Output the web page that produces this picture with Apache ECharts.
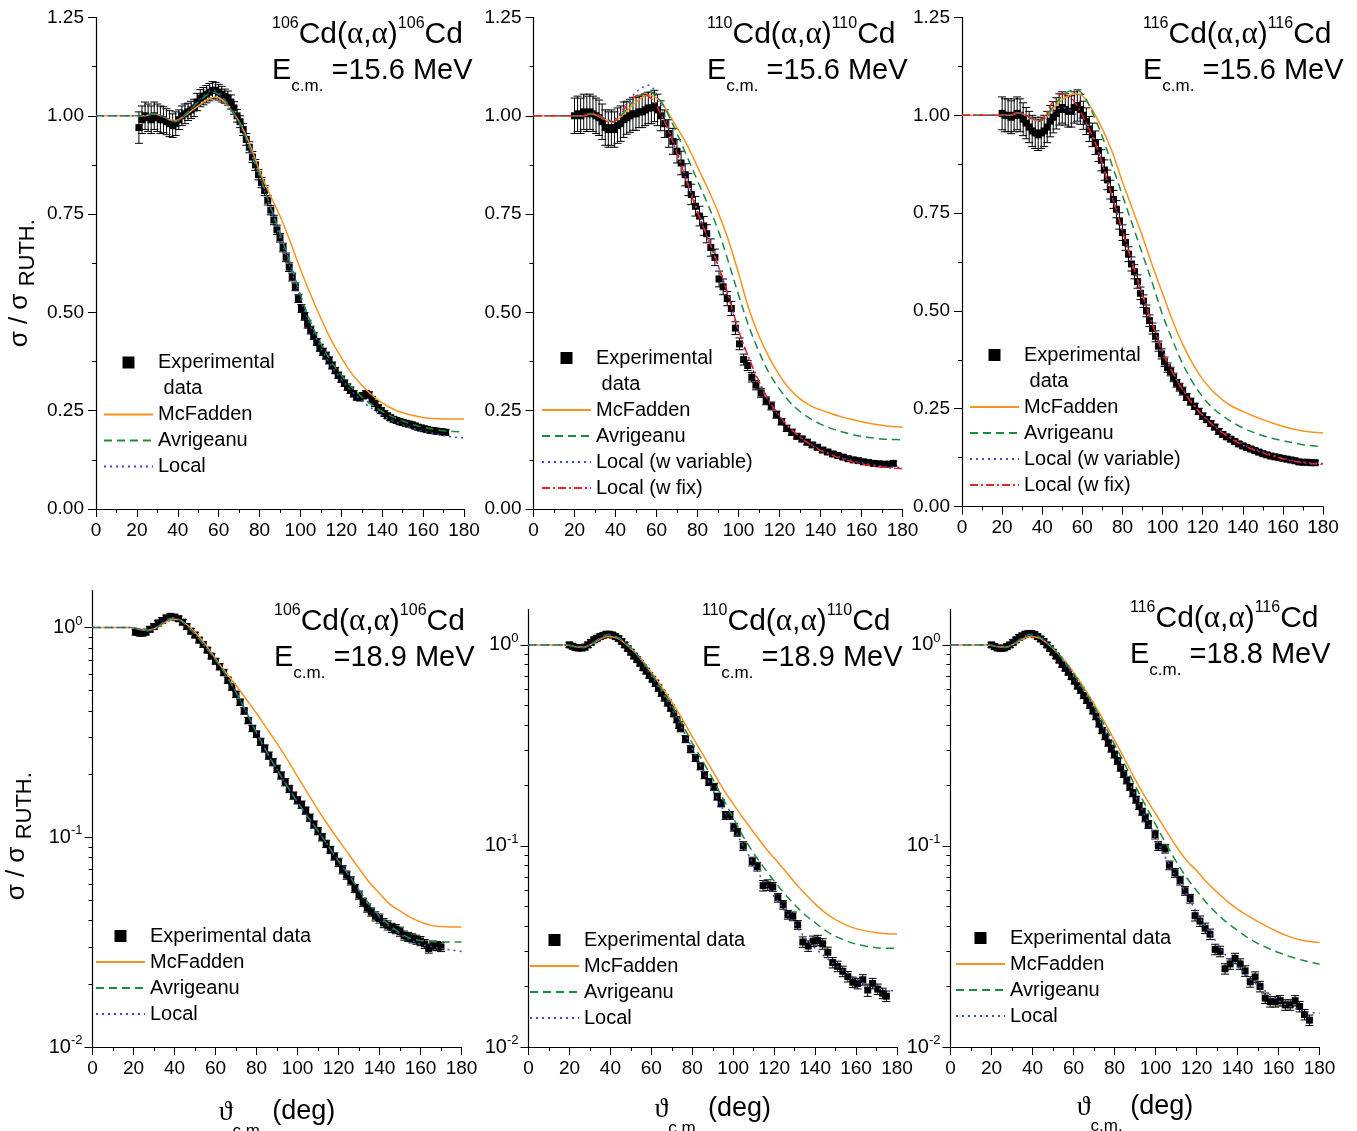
<!DOCTYPE html>
<html>
<head>
<meta charset="utf-8">
<title>Cd(α,α) elastic scattering</title>
<script src="https://cdn.jsdelivr.net/npm/echarts@6/dist/echarts.min.js"></script>
<style>
  html, body { margin: 0; padding: 0; background: #fff; }
  #main { width: 1357px; height: 1131px; }
</style>
</head>
<body>
<div id="main"></div>
<script type="text/javascript">
// ---- data: [angle (deg), sigma/sigma_Ruth, error] ----
// top row: error is absolute, bottom row (log) error is in percent
var p1Exp = [[21,0.97,0.04],[22.5,0.99,0.035],[24,1.0,0.035],[25.5,0.995,0.035],[27,0.99,0.035],[28.5,1.0,0.035],[30,0.995,0.035],[31.5,0.99,0.035],[33,0.99,0.033],[34.5,0.985,0.033],[36,0.98,0.033],[37.5,0.975,0.03],[39,0.98,0.03],[40.5,0.99,0.025],[42,1.0,0.025],[43.5,1.005,0.025],[45,1.01,0.022],[46.5,1.015,0.022],[48,1.02,0.022],[49.5,1.035,0.022],[51,1.045,0.022],[52.5,1.05,0.022],[54,1.055,0.022],[55.5,1.06,0.022],[57,1.065,0.022],[58.5,1.065,0.02],[60,1.06,0.02],[61.5,1.055,0.02],[63,1.05,0.018],[64.5,1.045,0.018],[66,1.035,0.018],[67.5,1.02,0.016],[69,1.0,0.016],[70.5,0.985,0.015],[72,0.965,0.015],[73.5,0.94,0.015],[75,0.92,0.014],[76.5,0.895,0.014],[78,0.875,0.014],[79.5,0.85,0.013],[81,0.83,0.013],[82.5,0.81,0.013],[84,0.785,0.012],[85.5,0.76,0.012],[87,0.735,0.012],[88.5,0.71,0.012],[90,0.69,0.011],[91.5,0.665,0.011],[93,0.64,0.011],[94.5,0.615,0.011],[96,0.59,0.01],[97.5,0.565,0.01],[99,0.535,0.01],[100.5,0.51,0.01],[102,0.49,0.01],[103.5,0.47,0.01],[105,0.455,0.01],[106.5,0.44,0.009],[108,0.425,0.009],[109.5,0.41,0.009],[111,0.4,0.009],[112.5,0.39,0.009],[114,0.378,0.009],[115.5,0.365,0.009],[117,0.352,0.008],[118.5,0.34,0.008],[120,0.33,0.008],[121.5,0.32,0.008],[123,0.31,0.008],[124.5,0.302,0.008],[126,0.293,0.008],[127.5,0.285,0.008],[129,0.283,0.008],[130.5,0.288,0.008],[132,0.293,0.008],[133.5,0.29,0.008],[135,0.278,0.008],[136.5,0.268,0.007],[138,0.258,0.007],[139.5,0.25,0.007],[141,0.243,0.007],[142.5,0.237,0.007],[144,0.232,0.007],[145.5,0.228,0.007],[147,0.225,0.007],[148.5,0.222,0.007],[150,0.22,0.007],[151.5,0.218,0.007],[153,0.216,0.007],[154.5,0.214,0.007],[156,0.211,0.007],[157.5,0.208,0.007],[159,0.206,0.007],[160.5,0.204,0.007],[162,0.202,0.007],[163.5,0.2,0.007],[165,0.199,0.007],[166.5,0.198,0.007],[168,0.197,0.007],[169.5,0.196,0.007],[171,0.195,0.007]];
var p2Exp = [[20,1.0,0.045],[21.5,1.005,0.045],[23,1.0,0.045],[24.5,1.01,0.045],[26,1.005,0.045],[27.5,1.01,0.045],[29,1.005,0.045],[30.5,1.0,0.045],[32,0.995,0.045],[33.5,0.985,0.045],[35,0.97,0.045],[36.5,0.965,0.045],[38,0.97,0.045],[39.5,0.965,0.045],[41,0.975,0.045],[42.5,0.98,0.045],[44,0.99,0.045],[45.5,0.995,0.042],[47,1.0,0.042],[48.5,1.005,0.042],[50,1.005,0.042],[51.5,1.01,0.04],[53,1.01,0.04],[54.5,1.015,0.04],[56,1.02,0.04],[57.5,1.02,0.04],[59,1.025,0.04],[60.5,1.015,0.04],[62,1.0,0.038],[64,0.98,0.035],[66,0.955,0.035],[68,0.935,0.033],[70,0.91,0.03],[72,0.88,0.03],[74,0.85,0.028],[75.5,0.825,0.028],[77,0.8,0.026],[79,0.77,0.025],[81,0.745,0.025],[83,0.72,0.024],[84.5,0.7,0.023],[86.5,0.665,0.022],[88.5,0.64,0.021],[90.5,0.585,0.02],[92.5,0.565,0.02],[94.5,0.535,0.018],[96.5,0.51,0.018],[98.5,0.46,0.016],[100.5,0.42,0.015],[102.5,0.38,0.014],[104.5,0.365,0.013],[106.5,0.335,0.012],[108.5,0.315,0.012],[111,0.295,0.011],[113.5,0.275,0.01],[116,0.262,0.01],[118.5,0.24,0.009],[121,0.222,0.008],[123.5,0.205,0.008],[126,0.195,0.008],[128.5,0.185,0.007],[131,0.178,0.007],[133.5,0.17,0.007],[136,0.163,0.006],[138.5,0.157,0.006],[141,0.15,0.006],[143.5,0.145,0.006],[146,0.14,0.006],[148.5,0.136,0.005],[151,0.132,0.005],[153.5,0.128,0.005],[156,0.125,0.005],[158.5,0.123,0.005],[161,0.12,0.005],[163.5,0.118,0.005],[166,0.116,0.005],[168.5,0.115,0.005],[171,0.114,0.005],[173.5,0.114,0.005],[175.5,0.116,0.005]];
var p3Exp = [[20,1.005,0.042],[21.5,1.0,0.042],[23,1.0,0.042],[24.5,0.995,0.042],[26,1.0,0.042],[27.5,1.005,0.042],[29,1.0,0.042],[30.5,0.99,0.042],[32,0.98,0.04],[33.5,0.97,0.04],[35,0.96,0.04],[36.5,0.955,0.04],[38,0.95,0.04],[39.5,0.955,0.04],[41,0.96,0.04],[42.5,0.97,0.04],[44,0.985,0.04],[45.5,0.995,0.04],[47,1.005,0.04],[48.5,1.015,0.04],[50,1.02,0.04],[51.5,1.015,0.04],[53,1.01,0.04],[54.5,1.01,0.04],[56,1.02,0.04],[57.5,1.025,0.04],[59,1.015,0.038],[60.5,1.0,0.036],[62,0.985,0.034],[63.5,0.965,0.032],[65,0.95,0.03],[66.5,0.93,0.03],[68,0.91,0.028],[69.5,0.885,0.027],[71,0.86,0.026],[72.5,0.835,0.025],[74,0.81,0.024],[75.5,0.785,0.023],[77,0.76,0.022],[78.5,0.73,0.021],[80,0.7,0.02],[81.5,0.675,0.02],[83,0.645,0.019],[84.5,0.62,0.018],[86,0.6,0.018],[87.5,0.575,0.017],[89,0.545,0.016],[90.5,0.525,0.016],[92,0.5,0.015],[93.5,0.475,0.015],[95,0.455,0.014],[96.5,0.435,0.014],[98,0.41,0.013],[99.5,0.39,0.013],[101,0.37,0.012],[102.5,0.355,0.012],[104,0.345,0.011],[105.5,0.33,0.011],[107,0.315,0.01],[108.5,0.305,0.01],[110,0.295,0.01],[112,0.28,0.009],[114,0.268,0.009],[116,0.256,0.008],[118,0.243,0.008],[120,0.231,0.008],[122,0.222,0.007],[124,0.212,0.007],[126,0.203,0.007],[128,0.192,0.007],[130,0.184,0.006],[132,0.178,0.006],[134,0.172,0.006],[136,0.166,0.006],[138,0.16,0.006],[140,0.155,0.006],[142,0.151,0.005],[144,0.147,0.005],[146,0.143,0.005],[148,0.139,0.005],[150,0.135,0.005],[152,0.132,0.005],[154,0.129,0.005],[156,0.127,0.005],[158,0.125,0.005],[160,0.123,0.005],[162,0.121,0.005],[164,0.119,0.005],[166,0.117,0.005],[168,0.114,0.005],[170,0.113,0.005],[172,0.113,0.005],[174,0.112,0.005],[176,0.112,0.005]];
var p4Exp = [[21,0.95,3],[22,0.95,3],[23,0.94,3],[24.5,0.94,3],[26,0.95,3],[28,0.98,3],[30,1.01,3],[32,1.05,3],[34,1.08,3],[36,1.11,3],[38,1.13,3],[40,1.12,3],[42,1.1,3],[44,1.06,3],[46,1.01,3],[48,0.96,3],[50,0.92,3],[52,0.87,3],[54,0.83,3],[56,0.78,3],[58,0.73,3],[60,0.69,3],[62,0.65,3.5],[64,0.61,3.5],[66,0.56,3.5],[68,0.52,3.5],[70,0.48,3.5],[72,0.44,3.5],[74,0.4,3.5],[76,0.36,3.5],[78,0.33,3.5],[80,0.31,3.5],[82,0.285,4],[84,0.265,4],[86,0.245,4],[88,0.228,4],[90,0.212,4],[92,0.197,4],[94,0.183,4],[96,0.17,4],[98,0.158,4],[100,0.15,4],[102,0.143,4],[104,0.134,4],[106,0.124,4],[108,0.115,4],[110,0.107,4],[112,0.1,4],[114,0.093,4],[116,0.087,4],[118,0.081,4],[120,0.076,4.5],[122,0.07,4.5],[124,0.066,4.5],[126,0.062,4.5],[128,0.057,4.5],[130,0.053,4.5],[132,0.049,4.5],[134,0.046,4.5],[136,0.044,4.5],[138,0.042,5],[140,0.041,5],[142,0.039,5],[144,0.038,5],[146,0.037,5],[148,0.0365,5],[150,0.0355,5],[152,0.034,5],[154,0.0335,5],[156,0.033,5],[158,0.0325,5],[160,0.032,5],[162,0.031,5],[164,0.0295,5],[166,0.0305,5],[168,0.0303,5],[170,0.03,5]];
var p5Exp = [[20,1.0,3],[21.5,0.985,3],[23,0.97,3],[24.5,0.965,3],[26,0.965,3],[27.5,0.975,3],[29,1.0,3],[30.5,1.03,3],[32,1.06,3],[33.5,1.08,3],[35,1.1,3],[36.5,1.115,3],[38,1.13,3],[39.5,1.13,3],[41,1.12,3],[42.5,1.1,3],[44,1.075,3],[45.5,1.04,3],[47,1.0,3],[48.5,0.96,3],[50,0.92,3],[51.5,0.88,3],[53,0.845,3],[54.5,0.81,3],[56,0.77,3],[57.5,0.74,3],[59,0.705,3],[60.5,0.675,3],[62,0.645,3.5],[63.5,0.61,3.5],[65,0.575,3.5],[66.5,0.545,3.5],[68,0.515,3.5],[69.5,0.485,3.5],[71,0.455,3.5],[72.5,0.425,3.5],[73.5,0.4,4],[74.3,0.385,4],[76.7,0.34,4],[79.2,0.303,4],[81.6,0.274,4],[84,0.249,4],[86,0.225,4],[88.1,0.208,4],[90.6,0.197,4],[92.2,0.176,4],[94.1,0.163,4],[96.3,0.142,4.5],[98.4,0.142,4.5],[100.3,0.124,4.5],[102,0.117,4.5],[104.9,0.1,5],[109.3,0.0837,5],[111.7,0.079,5],[114.6,0.0635,6],[116.9,0.064,6],[119.3,0.0626,5],[121.8,0.0553,5],[124.4,0.051,5],[126.7,0.0455,5],[129.1,0.0447,5],[131.5,0.0405,5],[134,0.0333,6],[136.6,0.0318,6],[139,0.0336,6],[141.3,0.0339,6],[143.7,0.0326,6],[146.2,0.0296,6],[148.6,0.0263,6],[151,0.0252,6],[153.5,0.0238,6],[156,0.0224,6],[158.4,0.021,6],[160.8,0.0207,6],[163.3,0.0216,6],[165.7,0.0192,7],[168.1,0.0207,6],[170.6,0.0194,6],[173,0.0185,6],[174.8,0.0179,6]];
var p6Exp = [[20,1.0,3],[21.5,0.98,3],[23,0.965,3],[24.5,0.96,3],[26,0.965,3],[27.5,0.98,3],[29,1.0,3],[30.5,1.03,3],[32,1.06,3],[33.5,1.09,3],[35,1.11,3],[36.5,1.13,3],[38,1.14,3],[39.5,1.14,3],[41,1.125,3],[42.5,1.1,3],[44,1.07,3],[45.5,1.04,3],[47,1.0,3],[48.5,0.96,3],[50,0.92,3],[51.5,0.88,3],[53,0.84,3],[54.5,0.8,3],[56,0.765,3],[57.5,0.73,3],[59,0.695,3],[60.5,0.66,3],[62,0.625,3.5],[63.5,0.595,3.5],[65,0.56,3.5],[66.5,0.53,3.5],[68,0.5,3.5],[69.5,0.47,3.5],[71,0.44,3.5],[72.5,0.405,3.5],[74,0.375,3.5],[75.5,0.35,3.5],[77,0.325,3.5],[78.5,0.305,4],[80,0.285,4],[81.5,0.265,4],[83,0.245,4],[84.5,0.228,4],[86,0.212,4],[87.5,0.197,4],[89,0.183,4],[90.5,0.17,4],[92,0.158,4],[93.5,0.148,4],[95,0.138,4.5],[96.5,0.128,4.5],[99.8,0.114,5],[101.4,0.1,5],[104.7,0.097,5],[106.8,0.0801,5],[109.5,0.0735,5],[112,0.0673,5],[114.4,0.0598,5],[116.9,0.0547,5],[119.3,0.045,6],[121.7,0.0423,6],[124.2,0.039,6],[126.6,0.0364,6],[129.1,0.0306,6],[131.5,0.0299,6],[133.9,0.0245,6],[136.4,0.0259,6],[138.8,0.0276,6],[141.3,0.0259,6],[143.7,0.0239,6],[146.2,0.0211,6],[148.6,0.0223,6],[151,0.02,6],[153.5,0.0175,6],[155.9,0.0168,6],[158.4,0.0168,6],[160.8,0.017,6],[163.3,0.0162,6],[165.7,0.0162,6],[168.1,0.017,6],[170.3,0.0159,6],[172.7,0.0145,6],[175.1,0.0136,6]];

// ---- optical model curves: [angle, sigma/sigma_Ruth] ----
var p1McFadden = [[0,1],[10,1],[20,1.0],[24,1.0],[28,1.005],[32,1.0],[36,0.99],[39,0.988],[42,0.995],[46,1.01],[50,1.025],[54,1.04],[58,1.048],[62,1.04],[66,1.015],[70,0.985],[75,0.93],[80,0.86],[85,0.8],[90,0.745],[95,0.68],[100,0.61],[105,0.545],[110,0.485],[115,0.43],[120,0.385],[125,0.345],[130,0.315],[135,0.29],[140,0.27],[145,0.255],[150,0.245],[155,0.238],[160,0.233],[165,0.23],[170,0.229],[175,0.229],[180,0.229]];
var p1Avrigeanu = [[0,1],[10,1],[20,1.0],[24,1.0],[28,1.006],[32,1.0],[36,0.99],[39,0.985],[42,0.995],[46,1.015],[50,1.035],[54,1.052],[57,1.06],[60,1.055],[63,1.04],[66,1.015],[70,0.985],[75,0.92],[80,0.85],[85,0.775],[90,0.7],[95,0.625],[100,0.545],[105,0.475],[110,0.42],[115,0.375],[120,0.34],[125,0.31],[130,0.285],[135,0.265],[140,0.248],[145,0.235],[150,0.224],[155,0.215],[160,0.208],[165,0.203],[170,0.199],[175,0.197],[180,0.196]];
var p1Local = [[0,1],[10,1],[20,1.0],[24,1.0],[28,1.006],[32,1.0],[36,0.99],[39,0.985],[42,0.995],[46,1.015],[50,1.038],[54,1.056],[57,1.065],[60,1.058],[63,1.04],[66,1.013],[70,0.98],[75,0.915],[80,0.845],[85,0.77],[90,0.69],[95,0.615],[100,0.535],[105,0.465],[110,0.41],[115,0.365],[120,0.33],[125,0.3],[130,0.275],[135,0.255],[140,0.238],[145,0.225],[150,0.214],[155,0.205],[160,0.198],[165,0.192],[170,0.187],[175,0.183],[180,0.181]];

var p2McFadden = [[0,1],[10,1],[20,1.0],[24,1.0],[28,1.005],[32,0.998],[36,0.988],[39,0.985],[42,0.995],[46,1.015],[50,1.035],[54,1.05],[57,1.052],[60,1.045],[63,1.03],[66,1.005],[70,0.97],[75,0.925],[80,0.87],[85,0.815],[90,0.755],[95,0.685],[100,0.6],[105,0.51],[110,0.44],[115,0.385],[120,0.34],[125,0.305],[130,0.28],[135,0.263],[140,0.252],[145,0.243],[150,0.235],[155,0.228],[160,0.222],[165,0.217],[170,0.213],[175,0.21],[180,0.208]];
var p2Avrigeanu = [[0,1],[10,1],[20,1.0],[24,1.0],[28,1.006],[32,1.0],[36,0.99],[39,0.985],[42,0.998],[46,1.02],[50,1.045],[54,1.058],[57,1.06],[60,1.05],[63,1.03],[66,1.0],[70,0.955],[75,0.895],[80,0.835],[85,0.775],[90,0.71],[95,0.63],[100,0.545],[105,0.465],[110,0.4],[115,0.345],[120,0.305],[125,0.272],[130,0.248],[135,0.23],[140,0.216],[145,0.205],[150,0.197],[155,0.19],[160,0.185],[165,0.181],[170,0.178],[175,0.177],[180,0.176]];
var p2LocalVar = [[0,1],[10,1],[20,1.0],[24,1.0],[28,1.008],[32,1.0],[36,0.988],[39,0.99],[42,1.005],[46,1.035],[50,1.06],[53,1.072],[56,1.078],[59,1.065],[62,1.03],[66,0.965],[70,0.91],[75,0.835],[80,0.76],[85,0.69],[90,0.62],[95,0.54],[100,0.45],[105,0.38],[110,0.32],[115,0.27],[120,0.235],[125,0.205],[130,0.183],[135,0.165],[140,0.151],[145,0.14],[150,0.131],[155,0.124],[160,0.118],[165,0.113],[170,0.109],[175,0.107],[180,0.106]];
var p2LocalFix = [[0,1],[10,1],[20,1.0],[24,1.0],[28,1.006],[32,1.0],[36,0.985],[39,0.985],[42,1.0],[46,1.03],[50,1.05],[53,1.056],[56,1.05],[59,1.035],[62,1.005],[66,0.96],[70,0.905],[75,0.83],[80,0.755],[85,0.69],[90,0.62],[95,0.545],[100,0.455],[105,0.385],[110,0.325],[115,0.275],[120,0.237],[125,0.207],[130,0.183],[135,0.164],[140,0.149],[145,0.138],[150,0.129],[155,0.121],[160,0.115],[165,0.11],[170,0.107],[175,0.104],[180,0.103]];

var p3McFadden = [[0,1],[10,1],[20,1.0],[24,1.0],[28,1.006],[32,1.0],[36,0.988],[39,0.985],[42,0.995],[46,1.02],[50,1.04],[54,1.052],[57,1.055],[60,1.05],[63,1.03],[66,1.005],[70,0.965],[75,0.905],[80,0.83],[85,0.76],[90,0.69],[95,0.615],[100,0.545],[105,0.475],[110,0.415],[115,0.365],[120,0.325],[125,0.295],[130,0.272],[135,0.255],[140,0.243],[145,0.232],[150,0.222],[155,0.213],[160,0.205],[165,0.198],[170,0.193],[175,0.19],[180,0.188]];
var p3Avrigeanu = [[0,1],[10,1],[20,1.0],[24,1.0],[28,1.006],[32,1.0],[36,0.99],[39,0.985],[42,1.0],[46,1.025],[50,1.05],[54,1.063],[57,1.065],[60,1.055],[63,1.03],[66,0.995],[70,0.945],[75,0.87],[80,0.795],[85,0.72],[90,0.645],[95,0.57],[100,0.49],[105,0.425],[110,0.365],[115,0.318],[120,0.28],[125,0.252],[130,0.232],[135,0.215],[140,0.201],[145,0.19],[150,0.181],[155,0.174],[160,0.168],[165,0.163],[170,0.158],[175,0.155],[180,0.153]];
var p3LocalVar = [[0,1],[10,1],[20,1.0],[24,1.0],[28,1.006],[32,1.0],[36,0.99],[39,0.985],[42,0.995],[46,1.01],[50,1.02],[53,1.015],[56,1.005],[59,0.99],[62,0.97],[66,0.935],[70,0.875],[75,0.79],[80,0.705],[85,0.625],[90,0.545],[95,0.47],[100,0.4],[105,0.345],[110,0.3],[115,0.264],[120,0.234],[125,0.21],[130,0.19],[135,0.173],[140,0.159],[145,0.148],[150,0.139],[155,0.131],[160,0.124],[165,0.118],[170,0.114],[175,0.111],[180,0.11]];
var p3LocalFix = [[0,1],[10,1],[20,1.0],[24,1.0],[28,1.008],[32,1.0],[36,0.988],[39,0.988],[42,1.005],[46,1.04],[50,1.055],[53,1.05],[56,1.035],[59,1.01],[62,0.98],[66,0.935],[70,0.875],[75,0.79],[80,0.705],[85,0.62],[90,0.54],[95,0.465],[100,0.395],[105,0.342],[110,0.298],[115,0.262],[120,0.232],[125,0.208],[130,0.188],[135,0.171],[140,0.157],[145,0.146],[150,0.137],[155,0.129],[160,0.122],[165,0.116],[170,0.112],[175,0.109],[180,0.108]];

var p4McFadden = [[0,1],[10,1],[18,1.0],[21,0.99],[24,0.975],[27,0.97],[30,0.985],[33,1.02],[36,1.065],[39,1.095],[42,1.09],[45,1.05],[50,0.95],[55,0.83],[60,0.71],[65,0.61],[70,0.53],[75,0.455],[80,0.39],[85,0.33],[90,0.28],[95,0.235],[100,0.195],[105,0.162],[110,0.135],[115,0.114],[120,0.097],[125,0.083],[130,0.071],[135,0.061],[140,0.054],[145,0.048],[150,0.0445],[155,0.0415],[160,0.0395],[165,0.038],[170,0.0375],[175,0.0373],[180,0.0373]];
var p4Avrigeanu = [[0,1],[10,1],[18,1.0],[21,0.99],[24,0.975],[27,0.965],[30,0.98],[33,1.03],[36,1.085],[39,1.11],[42,1.09],[45,1.04],[50,0.93],[55,0.81],[60,0.7],[65,0.595],[70,0.49],[75,0.395],[80,0.315],[85,0.255],[90,0.21],[95,0.175],[100,0.147],[105,0.125],[110,0.107],[115,0.091],[120,0.077],[125,0.066],[130,0.056],[135,0.048],[140,0.042],[145,0.038],[150,0.035],[155,0.033],[160,0.0322],[165,0.0318],[170,0.0317],[175,0.0317],[180,0.0317]];
var p4Local = [[0,1],[10,1],[18,1.0],[21,0.99],[24,0.975],[27,0.965],[30,0.98],[33,1.03],[36,1.085],[39,1.11],[42,1.09],[45,1.04],[50,0.93],[55,0.81],[60,0.7],[65,0.595],[70,0.49],[75,0.395],[80,0.315],[85,0.255],[90,0.21],[95,0.175],[100,0.147],[105,0.125],[110,0.107],[115,0.091],[120,0.077],[125,0.066],[130,0.056],[135,0.048],[140,0.0415],[145,0.0375],[150,0.0345],[155,0.0325],[160,0.031],[165,0.0302],[170,0.0295],[175,0.029],[180,0.0285]];

var p5McFadden = [[0,1],[10,1],[18,1.0],[21,0.99],[24,0.975],[27,0.975],[30,1.0],[33,1.04],[36,1.08],[39,1.1],[42,1.09],[45,1.06],[50,0.96],[55,0.85],[60,0.73],[65,0.62],[70,0.52],[75,0.43],[80,0.35],[85,0.287],[90,0.235],[95,0.193],[100,0.162],[105,0.137],[110,0.117],[115,0.1],[120,0.087],[125,0.076],[130,0.066],[135,0.058],[140,0.0515],[145,0.0465],[150,0.043],[155,0.0405],[160,0.0388],[165,0.0377],[170,0.037],[175,0.0366],[180,0.0365]];
var p5Avrigeanu = [[0,1],[10,1],[18,1.0],[21,0.99],[24,0.972],[27,0.97],[30,1.0],[33,1.05],[36,1.1],[39,1.125],[42,1.11],[45,1.07],[50,0.97],[55,0.845],[60,0.72],[65,0.6],[70,0.5],[75,0.405],[80,0.325],[85,0.265],[90,0.215],[95,0.172],[100,0.138],[105,0.111],[110,0.092],[115,0.078],[120,0.067],[125,0.058],[130,0.051],[135,0.0455],[140,0.0415],[145,0.038],[150,0.0355],[155,0.0338],[160,0.0325],[165,0.0317],[170,0.0312],[175,0.031],[180,0.031]];
var p5Local = [[0,1],[10,1],[18,1.0],[21,0.99],[24,0.972],[27,0.97],[30,1.0],[33,1.05],[36,1.1],[39,1.125],[42,1.11],[45,1.065],[50,0.96],[55,0.835],[60,0.7],[65,0.585],[70,0.48],[75,0.385],[80,0.305],[85,0.24],[90,0.19],[95,0.152],[100,0.123],[105,0.1],[110,0.081],[115,0.066],[120,0.056],[125,0.048],[130,0.041],[135,0.035],[140,0.031],[145,0.028],[150,0.0255],[155,0.0235],[160,0.0218],[165,0.0205],[170,0.0197],[175,0.0192],[180,0.019]];

var p6McFadden = [[0,1],[10,1],[18,1.0],[21,0.99],[24,0.975],[27,0.975],[30,1.0],[33,1.04],[36,1.08],[39,1.1],[42,1.09],[45,1.06],[50,0.96],[55,0.85],[60,0.73],[65,0.615],[70,0.51],[75,0.415],[80,0.335],[85,0.27],[90,0.215],[95,0.175],[100,0.145],[105,0.12],[110,0.1],[115,0.085],[120,0.0755],[125,0.066],[130,0.059],[135,0.053],[140,0.0485],[145,0.045],[150,0.042],[155,0.0395],[160,0.0372],[165,0.0355],[170,0.0342],[175,0.0335],[180,0.0331]];
var p6Avrigeanu = [[0,1],[10,1],[18,1.0],[21,0.99],[24,0.972],[27,0.97],[30,1.0],[33,1.05],[36,1.1],[39,1.125],[42,1.11],[45,1.07],[50,0.97],[55,0.845],[60,0.72],[65,0.6],[70,0.495],[75,0.4],[80,0.32],[85,0.255],[90,0.2],[95,0.16],[100,0.128],[105,0.103],[110,0.084],[115,0.07],[120,0.06],[125,0.052],[130,0.046],[135,0.0415],[140,0.038],[145,0.035],[150,0.0327],[155,0.031],[160,0.0295],[165,0.0283],[170,0.0273],[175,0.0265],[180,0.0258]];
var p6Local = [[0,1],[10,1],[18,1.0],[21,0.99],[24,0.972],[27,0.97],[30,1.0],[33,1.05],[36,1.1],[39,1.125],[42,1.11],[45,1.065],[50,0.96],[55,0.83],[60,0.7],[65,0.585],[70,0.48],[75,0.38],[80,0.3],[85,0.235],[90,0.18],[95,0.14],[100,0.11],[105,0.087],[110,0.07],[115,0.058],[120,0.047],[125,0.039],[130,0.033],[135,0.028],[140,0.025],[145,0.0225],[150,0.0202],[155,0.0185],[160,0.017],[165,0.016],[170,0.0153],[175,0.0149],[180,0.0147]];

// ---- labels and ticks ----
var nuclei = ['106', '110', '116', '106', '110', '116'];
var energies = ['15.6', '15.6', '15.6', '18.9', '18.9', '18.8'];
var logMajorTicks = [0.01, 0.1, 1];
var logMinorTicks = [0.02, 0.03, 0.04, 0.05, 0.06, 0.07, 0.08, 0.09, 0.2, 0.3, 0.4, 0.5, 0.6, 0.7, 0.8, 0.9];

var panels = [
  {log: false, exp: p1Exp, curves: [['McFadden', p1McFadden], ['Avrigeanu', p1Avrigeanu], ['Local', p1Local]]},
  {log: false, exp: p2Exp, curves: [['McFadden', p2McFadden], ['Avrigeanu', p2Avrigeanu], ['Local (w variable)', p2LocalVar], ['Local (w fix)', p2LocalFix]]},
  {log: false, exp: p3Exp, curves: [['McFadden', p3McFadden], ['Avrigeanu', p3Avrigeanu], ['Local (w variable)', p3LocalVar], ['Local (w fix)', p3LocalFix]]},
  {log: true, exp: p4Exp, curves: [['McFadden', p4McFadden], ['Avrigeanu', p4Avrigeanu], ['Local', p4Local]]},
  {log: true, exp: p5Exp, curves: [['McFadden', p5McFadden], ['Avrigeanu', p5Avrigeanu], ['Local', p5Local]]},
  {log: true, exp: p6Exp, curves: [['McFadden', p6McFadden], ['Avrigeanu', p6Avrigeanu], ['Local', p6Local]]}
];

// pixel layout of each panel
var layout = [
  {grid: [96, 17.5, 368, 491.5], title: [272, 16], legend: [103, 323.5], nameGap: 0},
  {grid: [533.5, 17.5, 369, 491.5], title: [707, 16], legend: [541, 319], nameGap: 0},
  {grid: [962, 17.5, 361, 489], title: [1143, 16], legend: [969, 316], nameGap: 0},
  {grid: [92.5, 590.5, 369, 456.5], title: [274, 603], legend: [95, 923], nameGap: 51.5},
  {grid: [528.5, 609.5, 368.5, 437.5], title: [702, 603], legend: [529, 927], nameGap: 48.5},
  {grid: [950.5, 609.5, 369, 437.5], title: [1130, 600], legend: [955, 925], nameGap: 46.5}
];

var FONT = '"Liberation Sans", Arial, Helvetica, sans-serif';
var SERIF = '"Liberation Serif", "DejaVu Serif", serif';
var SQUARE = 'path://M0,0L10,0L10,10L0,10Z';

var curveStyle = {
  'McFadden': {color: '#F7931E', type: 'solid'},
  'Avrigeanu': {color: '#1A8C42', type: [8, 5]},
  'Local': {color: '#3B4DC2', type: [2, 4]},
  'Local (w variable)': {color: '#3B4DC2', type: [2, 4]},
  'Local (w fix)': {color: '#EE2124', type: [8, 3, 2, 3]}
};

var titleRich = {
  m: {fontFamily: FONT, fontSize: 30, lineHeight: 37, verticalAlign: 'middle', color: '#000', fontWeight: 'normal'},
  g: {fontFamily: SERIF, fontSize: 31, lineHeight: 37, verticalAlign: 'middle', color: '#000', fontWeight: 'normal'},
  sup: {fontFamily: FONT, fontSize: 16, lineHeight: 16, verticalAlign: 'top', color: '#000', fontWeight: 'normal'},
  e: {fontFamily: FONT, fontSize: 29, lineHeight: 36, verticalAlign: 'top', padding: [3, 0, 0, 0], color: '#000', fontWeight: 'normal'},
  sub: {fontFamily: FONT, fontSize: 17, lineHeight: 41.5, verticalAlign: 'bottom', color: '#000', fontWeight: 'normal'}
};

function logLabel(v) {
  var e = Math.round(Math.log(v) / Math.LN10);
  if (Math.abs(v / Math.pow(10, e) - 1) > 1e-6) return '';
  return '10{sup|' + e + '}';
}

function errorBars(pct) {
  return function (params, api) {
    var x = api.value(0), y = api.value(1), e = api.value(2);
    if (pct) e = y * e / 100;
    var hi = api.coord([x, y + e]);
    var lo = api.coord([x, y - e]);
    var w = 4;
    return {
      type: 'group',
      children: [
        {type: 'line', shape: {x1: hi[0], y1: hi[1], x2: lo[0], y2: lo[1]}, style: {stroke: '#000', lineWidth: 1}},
        {type: 'line', shape: {x1: hi[0] - w, y1: hi[1], x2: hi[0] + w, y2: hi[1]}, style: {stroke: '#000', lineWidth: 1}},
        {type: 'line', shape: {x1: lo[0] - w, y1: lo[1], x2: lo[0] + w, y2: lo[1]}, style: {stroke: '#000', lineWidth: 1}}
      ]
    };
  };
}

var myChart = echarts.init(document.getElementById('main'), null, {renderer: 'canvas'});

var option = {
  animation: false,
  backgroundColor: '#fff',
  title: [], legend: [], grid: [], xAxis: [], yAxis: [], series: []
};

panels.forEach(function (p, i) {
  var L = layout[i];
  var bottomRow = i >= 3;

  option.grid.push({left: L.grid[0], top: L.grid[1], width: L.grid[2], height: L.grid[3],
    containLabel: false, outerBoundsMode: 'none'});

  var xAxis = {
    gridIndex: i, type: 'value', min: 0, max: 180, interval: 20,
    axisLine: {onZero: false, lineStyle: {color: '#000', width: 1.2}},
    axisTick: {length: 8, lineStyle: {color: '#000', width: 1}},
    minorTick: {show: true, splitNumber: 2, length: 4, lineStyle: {color: '#000', width: 1}},
    splitLine: {show: false}, minorSplitLine: {show: false},
    axisLabel: {color: '#000', fontFamily: FONT, fontSize: 19, margin: 12}
  };
  if (bottomRow) {
    xAxis.name = '{t|ϑ}{s|c.m.}{m| (deg)}';
    xAxis.nameLocation = 'middle';
    xAxis.nameGap = L.nameGap;
    xAxis.nameTextStyle = {rich: {
      t: {fontFamily: SERIF, fontSize: 28, lineHeight: 30, verticalAlign: 'top', color: '#000'},
      s: {fontFamily: FONT, fontSize: 17, lineHeight: 41, verticalAlign: 'bottom', color: '#000'},
      m: {fontFamily: FONT, fontSize: 27, lineHeight: 30, verticalAlign: 'top', color: '#000'}
    }};
  }
  option.xAxis.push(xAxis);

  var yIndex = option.yAxis.length;
  var yAxis;
  if (p.log) {
    yAxis = {
      gridIndex: i, type: 'log', logBase: 10, min: 0.01, max: 1.5, position: 'left',
      axisLine: {lineStyle: {color: '#000', width: 1.2}},
      axisTick: {length: 8, customValues: logMajorTicks, lineStyle: {color: '#000', width: 1}},
      splitLine: {show: false},
      axisLabel: {color: '#000', fontFamily: FONT, fontSize: 20, lineHeight: 26, margin: 10,
        customValues: logMajorTicks, formatter: logLabel,
        rich: {sup: {fontFamily: FONT, fontSize: 13, lineHeight: 12, verticalAlign: 'top', color: '#000'}}}
    };
  } else {
    yAxis = {
      gridIndex: i, type: 'value', min: 0, max: 1.25, interval: 0.25, position: 'left',
      axisLine: {lineStyle: {color: '#000', width: 1.2}},
      axisTick: {length: 8, lineStyle: {color: '#000', width: 1}},
      minorTick: {show: true, splitNumber: 2, length: 4, lineStyle: {color: '#000', width: 1}},
      splitLine: {show: false}, minorSplitLine: {show: false},
      axisLabel: {color: '#000', fontFamily: FONT, fontSize: 19, margin: 12,
        formatter: function (v) { return v.toFixed(2); }}
    };
  }
  if (i === 0 || i === 3) {
    yAxis.name = '{m|σ / σ }{s|RUTH.}';
    yAxis.nameLocation = 'middle';
    yAxis.nameGap = 57;
    yAxis.nameTextStyle = {padding: [0, i === 0 ? 40 : 35, 0, 0], rich: {
      m: {fontFamily: FONT, fontSize: 26, lineHeight: 30, verticalAlign: 'top', color: '#000'},
      s: {fontFamily: FONT, fontSize: 22, lineHeight: 32, verticalAlign: 'bottom', color: '#000'}
    }};
  }
  option.yAxis.push(yAxis);
  if (p.log) {
    // second axis on the same grid carrying only the minor log ticks
    option.yAxis.push({
      gridIndex: i, type: 'log', logBase: 10, min: 0.01, max: 1.5, position: 'left',
      axisLine: {show: false}, axisLabel: {show: false}, splitLine: {show: false},
      axisTick: {length: 4, customValues: logMinorTicks, lineStyle: {color: '#000', width: 1}}
    });
  }

  option.series.push({
    type: 'custom', name: 'errors ' + (i + 1), xAxisIndex: i, yAxisIndex: yIndex,
    data: p.exp, encode: {x: 0, y: 1}, renderItem: errorBars(p.log), silent: true, z: 2
  });
  option.series.push({
    type: 'scatter', name: 'Experimental data', xAxisIndex: i, yAxisIndex: yIndex,
    data: p.exp, encode: {x: 0, y: 1}, symbol: 'rect', symbolSize: 7,
    itemStyle: {color: '#000', opacity: 1}, silent: true, z: 3
  });
  p.curves.forEach(function (c) {
    var st = curveStyle[c[0]];
    option.series.push({
      type: 'line', name: c[0], xAxisIndex: i, yAxisIndex: yIndex, data: c[1],
      showSymbol: false, symbol: 'none', smooth: 0.35,
      lineStyle: {color: st.color, width: 1.5, type: st.type},
      // transparent item colour keeps the legend sample a bare line
      itemStyle: {color: 'transparent'}, silent: true, z: 4
    });
  });

  option.legend.push({
    orient: 'vertical', left: L.legend[0], top: L.legend[1], padding: 0,
    itemGap: 0, itemWidth: 49, itemHeight: 12, selectedMode: false,
    textStyle: {color: '#000', fontFamily: FONT, fontSize: 20, lineHeight: 26},
    formatter: function (n) {
      return (!bottomRow && n === 'Experimental data') ? '\nExperimental\n data' : n;
    },
    data: [{name: 'Experimental data', icon: SQUARE, itemStyle: {color: '#000', opacity: 1}}]
      .concat(p.curves.map(function (c) { return c[0]; }))
  });

  option.title.push({
    left: L.title[0], top: L.title[1], padding: 0,
    text: '{sup|' + nuclei[i] + '}{m|Cd(}{g|α}{m|,}{g|α}{m|)}{sup|' + nuclei[i] + '}{m|Cd}\n' +
          '{e|E}{sub|c.m.}{e| =' + energies[i] + ' MeV}',
    textStyle: {fontFamily: FONT, fontWeight: 'normal', color: '#000', rich: titleRich}
  });
});

myChart.setOption(option);
</script>
</body>
</html>
